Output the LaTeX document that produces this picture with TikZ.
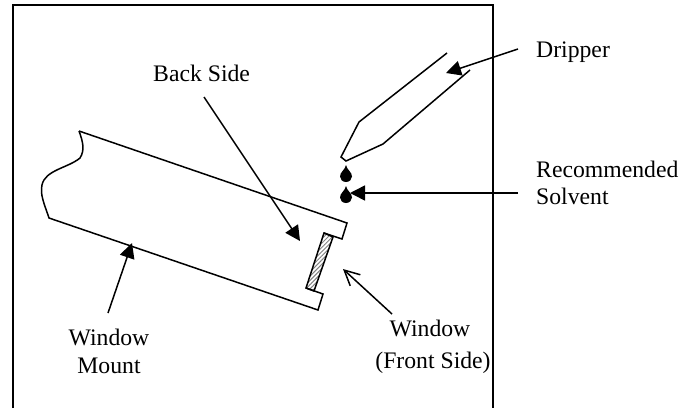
\documentclass[tikz,border=0pt]{standalone}
\usepackage{fontspec}
\setmainfont{Liberation Serif}
\usetikzlibrary{arrows.meta,patterns.meta}
\tikzset{
  x=1pt,y=-1pt,
  outline/.style={line width=1.5pt,line join=miter,draw=black},
  frameline/.style={line width=2pt,draw=black},
  label/.style={inner sep=0pt,anchor=base west,font=\fontsize{23.7}{27}\selectfont},
  labelc/.style={inner sep=0pt,anchor=base,font=\fontsize{23.7}{27}\selectfont},
  solid arrow/.style={line width=1.5pt,-{Triangle[length=15pt,width=15pt]}},
  open arrow/.style={line width=1.5pt,-{Straight Barb[length=15pt,width=15pt,line width=1.5pt]}},
  dropshape/.style={fill=black,draw=none}
}
\begin{document}
\begin{tikzpicture}
\useasboundingbox (0,0) rectangle (694,408);
\draw[frameline] (13,408) -- (13,5) -- (493,5) -- (493,408);
% window
\fill[pattern={Lines[angle=45,distance=3pt,line width=1pt]},pattern color=gray] (324,233) -- (333,237) -- (314,291) -- (306,288) -- cycle;
\draw[outline] (324,233) -- (333,237) -- (314,291) -- (306,288);
% mount
\draw[outline] (79,131) -- (347,223) -- (342,239) -- (324,233) -- (306,288) -- (323,294) -- (318,310) -- (49,218)
  .. controls (44,203) and (40,195) .. (42,185)
  .. controls (45,170) and (68,168) .. (80,158)
  .. controls (85,150) and (83,142) .. (79,131);
% dripper
\draw[outline] (447,53) -- (359,122) -- (341,157) -- (346,161) -- (383,144) -- (470,70);
% drops
\fill[dropshape] (346,165) .. controls (347,170) and (352,172) .. (352,176.5) arc (0:180:6 and 5.5) .. controls (340,172) and (345,170) .. (346,165) -- cycle;
\fill[dropshape] (346,186) .. controls (347,191) and (352,193) .. (352,197.5) arc (0:180:6 and 5.5) .. controls (340,193) and (345,191) .. (346,186) -- cycle;
% labels
\node[label] (dripper) at (536,57) {Dripper};
\node[label] (rec) at (536,177) {Recommended};
\node[label] (solvent) at (536,204) {Solvent};
\node[labelc] (wm1) at (109,345) {Window};
\node[labelc] (wm2) at (109,373) {Mount};
\node[labelc] (wf1) at (430,336) {Window};
\node[labelc] (wf2) at (433,368) {(Front Side)};
\node[label] (back) at (153,81) {Back Side};
% arrows
\coordinate (a1s) at (518,49); \coordinate (a1e) at (446,73);
\coordinate (a2s) at (518,193); \coordinate (a2e) at (350,193);
\coordinate (a3s) at (204,97); \coordinate (a3e) at (300,241);
\coordinate (a4s) at (108,313); \coordinate (a4e) at (132,243);
\coordinate (a5s) at (392,314); \coordinate (a5e) at (343,269);
\draw[solid arrow] (a1s) -- (a1e);
\draw[solid arrow] (a2s) -- (a2e);
\draw[solid arrow] (a3s) -- (a3e);
\draw[solid arrow] (a4s) -- (a4e);
\draw[open arrow] (a5s) -- (a5e);
\end{tikzpicture}
\end{document}
